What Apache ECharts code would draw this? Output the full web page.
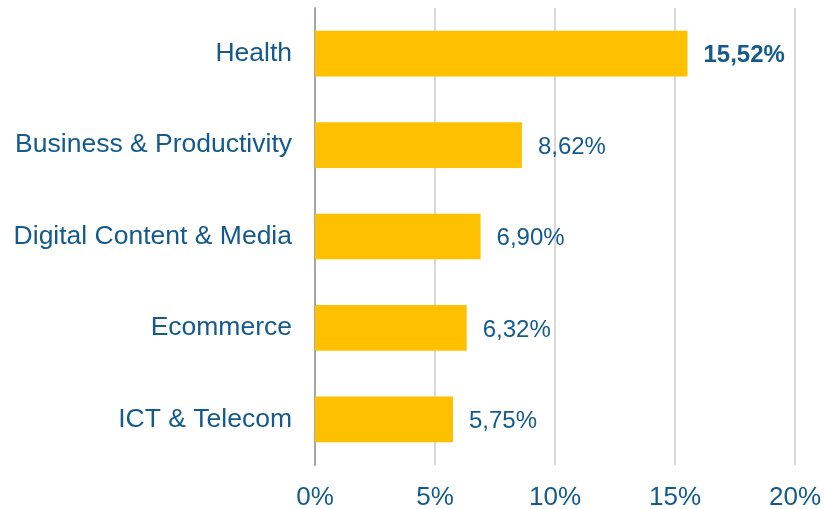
<!DOCTYPE html>
<html>
<head>
<meta charset="utf-8">
<script src="https://cdn.jsdelivr.net/npm/echarts@6/dist/echarts.min.js"></script>
<style>
html,body{margin:0;padding:0;background:#fff;}
#chart{width:824px;height:509px;}
</style>
</head>
<body>
<div id="chart"></div>
<script>
// Share of apps per sector (percent)
const categories = ['ICT & Telecom', 'Ecommerce', 'Digital Content & Media', 'Business & Productivity', 'Health'];
const shares = [5.75, 6.32, 6.90, 8.62, 15.52];
const xTicks = [0, 5, 10, 15, 20];

const textColor = '#145a8c';
const fontFamily = 'Liberation Sans, Arial, sans-serif';
const fmt = v => v.toFixed(2).replace('.', ',') + '%';

const chart = echarts.init(document.getElementById('chart'));
chart.setOption({
  animation: false,
  grid: { left: 315, right: 29, top: 8, bottom: 44, outerBoundsMode: 'none', containLabel: false },
  xAxis: {
    type: 'value',
    min: xTicks[0],
    max: xTicks[xTicks.length - 1],
    interval: 5,
    axisLine: { show: false },
    axisTick: { show: false },
    axisLabel: {
      color: textColor, fontSize: 26, fontFamily: fontFamily,
      margin: 20, formatter: v => v + '%'
    },
    splitLine: { show: true, lineStyle: { color: '#d9d9d9', width: 2 } }
  },
  yAxis: {
    type: 'category',
    data: categories,
    axisLine: { show: true, lineStyle: { color: '#a6a6a6', width: 2 } },
    axisTick: { show: false },
    axisLabel: {
      color: textColor, fontSize: 26.5, fontFamily: fontFamily, margin: 23
    }
  },
  series: [{
    type: 'bar',
    data: shares.map((v, i) => ({
      value: v,
      label: i === shares.length - 1 ? { fontWeight: 'bold' } : {}
    })),
    barWidth: '50%',
    itemStyle: { color: '#ffc000' },
    label: {
      show: true, position: 'right', distance: 16, offset: [0, 2],
      color: textColor, fontSize: 24, fontFamily: fontFamily,
      formatter: p => fmt(p.value)
    }
  }]
});
</script>
</body>
</html>
